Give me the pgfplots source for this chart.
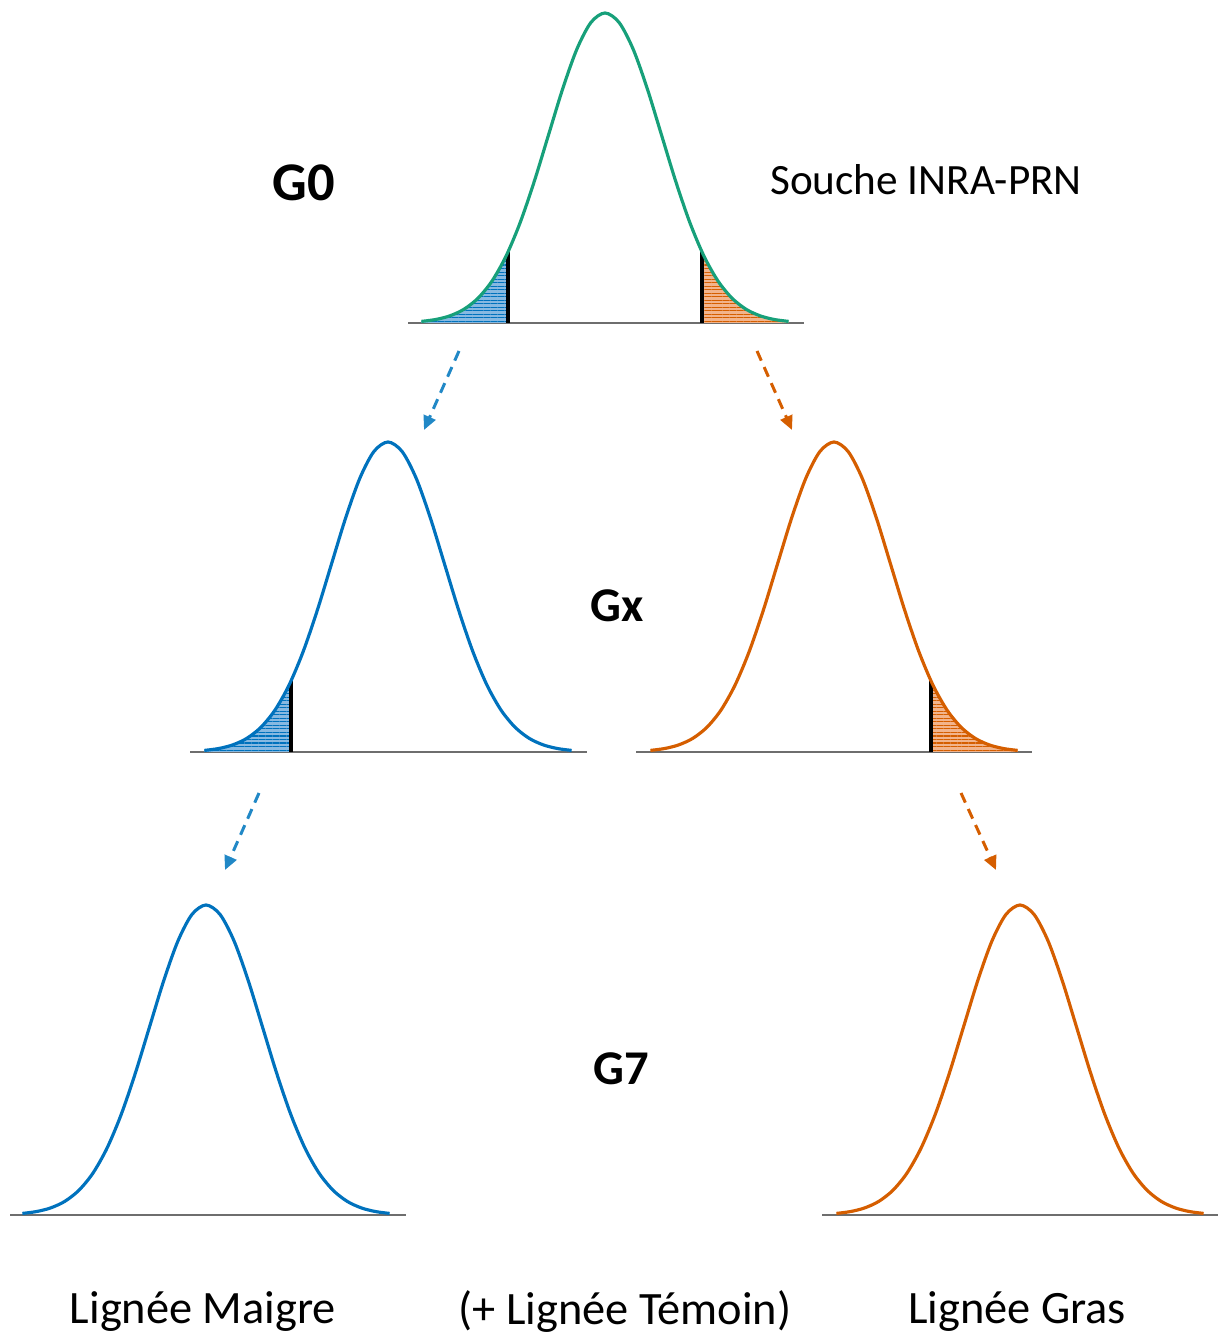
\documentclass[border=0pt]{standalone}
\usepackage{pgfplots}
\pgfplotsset{compat=1.18}
\usepackage{pgfplotstable}
\usepackage{fontspec}
\setmainfont{Carlito}
\usetikzlibrary{patterns.meta,arrows.meta}
\definecolor{cgreen}{RGB}{23,160,122}
\definecolor{cblue}{RGB}{0,114,189}
\definecolor{corange}{RGB}{213,94,0}
\definecolor{ablue}{RGB}{33,136,198}
\definecolor{tailblue}{RGB}{135,185,225}
\definecolor{tailorange}{RGB}{242,180,140}
\definecolor{cgray}{RGB}{110,110,110}
\pgfplotstableread{
z g
-3.25 0.0051
-3.00 0.0111
-2.75 0.0228
-2.50 0.0439
-2.25 0.0796
-2.00 0.1353
-1.75 0.2163
-1.50 0.3247
-1.25 0.4578
-1.00 0.6065
-0.75 0.7548
-0.50 0.8825
-0.25 0.9692
0.00 1.0000
0.25 0.9692
0.50 0.8825
0.75 0.7548
1.00 0.6065
1.25 0.4578
1.50 0.3247
1.75 0.2163
2.00 0.1353
2.25 0.0796
2.50 0.0439
2.75 0.0228
3.00 0.0111
3.25 0.0051
}\gauss
\pgfplotstableread{
z g
-3.25 0
-3.25 0.0051
-3.00 0.0111
-2.75 0.0228
-2.50 0.0439
-2.25 0.0796
-2.00 0.1353
-1.75 0.2163
-1.72 0.2278
-1.72 0
}\lefttail
\pgfplotstableread{
z g
1.72 0
1.72 0.2278
1.75 0.2163
2.00 0.1353
2.25 0.0796
2.50 0.0439
2.75 0.0228
3.00 0.0111
3.25 0.0051
3.25 0
}\righttail
\begin{document}
\begin{tikzpicture}
\begin{axis}[name=ax, scale only axis, width=12.18cm, height=13.37cm,
  xmin=0, xmax=1218, ymin=0, ymax=1337, hide axis, clip=false]
% baselines
\addplot[cgray, line width=0.55pt] coordinates {(408,1014) (804,1014)};
\addplot[cgray, line width=0.55pt] coordinates {(190,585) (587,585)};
\addplot[cgray, line width=0.55pt] coordinates {(636,585) (1032,585)};
\addplot[cgray, line width=0.55pt] coordinates {(10,122) (406,122)};
\addplot[cgray, line width=0.55pt] coordinates {(822,122) (1218,122)};
% tails G0
\addplot[draw=none, fill=tailblue, postaction={pattern={Lines[angle=0,distance=1pt,line width=0.3pt]}, pattern color=cblue}]
  table[x expr=605+56.5*\thisrow{z}, y expr=1014+310*\thisrow{g}] {\lefttail};
\addplot[draw=none, fill=tailorange, postaction={pattern={Lines[angle=0,distance=1pt,line width=0.3pt]}, pattern color=corange}]
  table[x expr=605+56.5*\thisrow{z}, y expr=1014+310*\thisrow{g}] {\righttail};
% tails Gx
\addplot[draw=none, fill=tailblue, postaction={pattern={Lines[angle=0,distance=1pt,line width=0.3pt]}, pattern color=cblue}]
  table[x expr=388+56.5*\thisrow{z}, y expr=585+310*\thisrow{g}] {\lefttail};
\addplot[draw=none, fill=tailorange, postaction={pattern={Lines[angle=0,distance=1pt,line width=0.3pt]}, pattern color=corange}]
  table[x expr=834+56.5*\thisrow{z}, y expr=585+310*\thisrow{g}] {\righttail};
% threshold bars
\addplot[black, line width=1.1pt] coordinates {(507.8,1014) (507.8,1084.6)};
\addplot[black, line width=1.1pt] coordinates {(702.2,1014) (702.2,1084.6)};
\addplot[black, line width=1.1pt] coordinates {(290.8,585) (290.8,655.6)};
\addplot[black, line width=1.1pt] coordinates {(931.2,585) (931.2,655.6)};
% curves
\addplot[cgreen, line width=0.9pt, smooth] table[x expr=605+56.5*\thisrow{z}, y expr=1014+310*\thisrow{g}] {\gauss};
\addplot[cblue, line width=0.9pt, smooth] table[x expr=388+56.5*\thisrow{z}, y expr=585+310*\thisrow{g}] {\gauss};
\addplot[corange, line width=0.9pt, smooth] table[x expr=834+56.5*\thisrow{z}, y expr=585+310*\thisrow{g}] {\gauss};
\addplot[cblue, line width=0.9pt, smooth] table[x expr=206+56.5*\thisrow{z}, y expr=122+310*\thisrow{g}] {\gauss};
\addplot[corange, line width=0.9pt, smooth] table[x expr=1020+56.5*\thisrow{z}, y expr=122+310*\thisrow{g}] {\gauss};
% arrows
\draw[ablue, line width=0.85pt, dash pattern=on 3pt off 2pt, -{Triangle[length=4pt,width=3.6pt]}] (459,986) -- (424,907);
\draw[corange, line width=0.85pt, dash pattern=on 3pt off 2pt, -{Triangle[length=4pt,width=3.6pt]}] (757,986) -- (792,907);
\draw[ablue, line width=0.85pt, dash pattern=on 3pt off 2pt, -{Triangle[length=4pt,width=3.6pt]}] (259,544) -- (225,467);
\draw[corange, line width=0.85pt, dash pattern=on 3pt off 2pt, -{Triangle[length=4pt,width=3.6pt]}] (961,544) -- (996,467);
% texts
\node[font=\fontsize{15.5}{18}\selectfont\bfseries] at (304,1154) {G0};
\node[font=\fontsize{12.3}{14}\selectfont] at (926,1157) {Souche INRA-PRN};
\node[font=\fontsize{13.8}{16}\selectfont\bfseries] at (617,731) {Gx};
\node[font=\fontsize{13.8}{16}\selectfont\bfseries] at (621,268) {G7};
\node[font=\fontsize{13.2}{16}\selectfont] at (203,25) {Lignée Maigre};
\node[font=\fontsize{13.2}{16}\selectfont] at (625,25) {(+ Lignée Témoin)};
\node[font=\fontsize{13.2}{16}\selectfont] at (1017,25) {Lignée Gras};
\end{axis}
\pgfresetboundingbox
\path (ax.south west) rectangle (ax.north east);
\end{tikzpicture}
\end{document}
